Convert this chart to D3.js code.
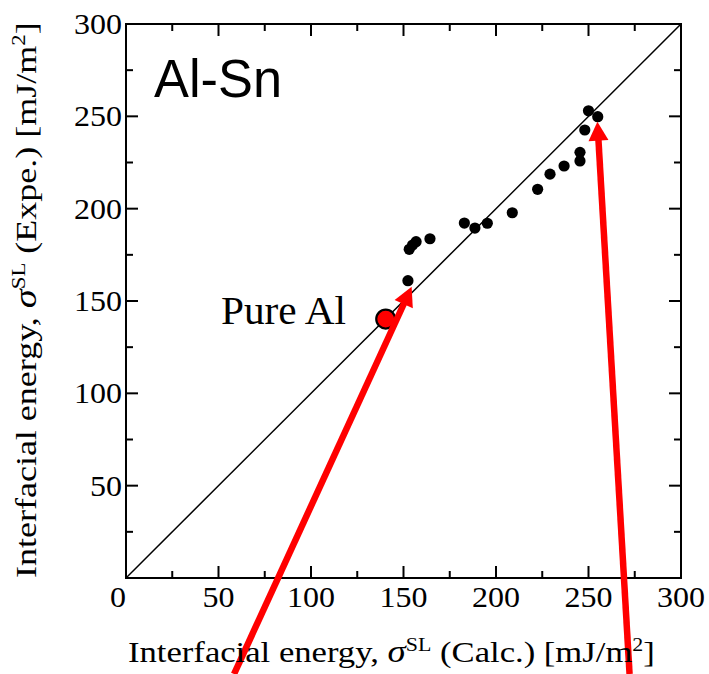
<!DOCTYPE html>
<html>
<head>
<meta charset="utf-8">
<script src="https://cdn.jsdelivr.net/npm/d3@7"></script>
<style>
  body { margin: 0; background: #fff; }
  svg { display: block; }
  .tick-label { font-family: "Liberation Serif", "Times New Roman", serif; font-size: 29px; fill: #000; }
  .axis-title { font-family: "Liberation Serif", "Times New Roman", serif; font-size: 30px; fill: #000; }
</style>
</head>
<body>
<div id="chart"></div>
<script>
// measured interfacial energies [mJ/m2]
const calcEnergy = [250, 255, 248, 245.4, 245.4, 236.8, 229.2, 222.5, 208.8, 195.3, 188.6, 182.9, 164.3, 156.8, 154.9, 153.1, 152.4];
const expEnergy = [253, 249.8, 242.6, 230.5, 225.8, 223.1, 218.7, 210.5, 197.8, 192.1, 189.5, 192.2, 183.7, 182.1, 180.3, 178, 161];
const pureAl = [140.4, 140.2];

const xTickValues = [0, 50, 100, 150, 200, 250, 300];
const yTickValues = [50, 100, 150, 200, 250, 300];
const minorTickValues = [25, 75, 125, 175, 225, 275];

// annotation arrows, in data units (tails run off the bottom of the page)
const arrowTails = [[58.4, -52], [272.2, -52]];
const arrowTips = [[154.4, 157.7], [254.8, 247.1]];

const config = {
  width: 709,
  height: 674,
  margin: { top: 24, right: 28, bottom: 96, left: 126 },
};

const svg = d3.select('#chart').append('svg')
  .attr('width', config.width)
  .attr('height', config.height);

const innerW = config.width - config.margin.left - config.margin.right;
const innerH = config.height - config.margin.top - config.margin.bottom;

const xScale = d3.scaleLinear().domain([0, 300]).range([0, innerW]);
const yScale = d3.scaleLinear().domain([0, 300]).range([innerH, 0]);

const g = svg.append('g')
  .attr('transform', `translate(${config.margin.left},${config.margin.top})`);

// stretch a text element horizontally to a target width
function fitWidth(sel, target) {
  const w = sel.node().getComputedTextLength();
  sel.attr('textLength', target).attr('lengthAdjust', 'spacingAndGlyphs');
  return w;
}

// y = x reference line
g.append('line')
  .attr('x1', xScale(0)).attr('y1', yScale(0))
  .attr('x2', xScale(300)).attr('y2', yScale(300))
  .attr('stroke', '#000')
  .attr('stroke-width', 1.5);

// inward ticks on all four sides
const majorLen = 12;
const minorLen = 7;
const tickG = g.append('g').attr('stroke', '#000').attr('stroke-width', 2);

[[xTickValues, majorLen], [minorTickValues, minorLen]].forEach(([vals, len]) => {
  tickG.selectAll(null).data(vals).enter().append('line')
    .attr('x1', (d) => xScale(d)).attr('x2', (d) => xScale(d))
    .attr('y1', innerH).attr('y2', innerH - len);
  tickG.selectAll(null).data(vals).enter().append('line')
    .attr('x1', (d) => xScale(d)).attr('x2', (d) => xScale(d))
    .attr('y1', 0).attr('y2', len);
  tickG.selectAll(null).data(vals).enter().append('line')
    .attr('y1', (d) => yScale(d)).attr('y2', (d) => yScale(d))
    .attr('x1', 0).attr('x2', len);
  tickG.selectAll(null).data(vals).enter().append('line')
    .attr('y1', (d) => yScale(d)).attr('y2', (d) => yScale(d))
    .attr('x1', innerW).attr('x2', innerW - len);
});

// frame
g.append('rect')
  .attr('width', innerW)
  .attr('height', innerH)
  .attr('fill', 'none')
  .attr('stroke', '#000')
  .attr('stroke-width', 2);

// tick labels
g.selectAll('.x-label')
  .data(xTickValues)
  .enter()
  .append('text')
  .attr('class', 'tick-label x-label')
  .attr('text-anchor', 'middle')
  .attr('x', (d) => xScale(d) + (d === 0 ? -8 : 0))
  .attr('y', innerH + 29)
  .text((d) => d)
  .each(function (d) { fitWidth(d3.select(this), String(d).length * 16); });

g.selectAll('.y-label')
  .data(yTickValues)
  .enter()
  .append('text')
  .attr('class', 'tick-label y-label')
  .attr('text-anchor', 'end')
  .attr('x', -4)
  .attr('y', (d) => yScale(d) + 10)
  .text((d) => d)
  .each(function (d) { fitWidth(d3.select(this), String(d).length * 16); });

// axis titles
function addTitle(parent, kind) {
  const t = parent.append('text').attr('class', 'axis-title');
  t.append('tspan').text('Interfacial energy, ');
  t.append('tspan').attr('font-style', 'italic').attr('font-size', '32px').text('σ');
  t.append('tspan').attr('font-size', '19px').attr('dy', -11).text('SL');
  t.append('tspan').attr('dy', 11).text(` (${kind}) [mJ/m`);
  t.append('tspan').attr('font-size', '19px').attr('dy', -11).text('2');
  t.append('tspan').attr('dy', 11).text(']');
  return t;
}

const xTitle = addTitle(svg, 'Calc.')
  .attr('x', 128)
  .attr('y', 662);
const xW = xTitle.node().getBBox().width;
xTitle.attr('transform', `translate(128,0) scale(${527 / xW},1) translate(-128,0)`);

const yTitle = addTitle(svg.append('g').attr('transform', 'translate(36,578) rotate(-90)'), 'Expe.')
  .attr('x', 0)
  .attr('y', 0);
const yW = yTitle.node().getBBox().width;
yTitle.attr('transform', `scale(${556 / yW},1)`);

// system label
const sysLabel = g.append('text')
  .attr('x', 154 - config.margin.left)
  .attr('y', 97 - config.margin.top)
  .attr('font-family', '"Liberation Sans", Arial, sans-serif')
  .attr('font-size', '53px')
  .text('Al-Sn');
fitWidth(sysLabel, 128);

// data points
g.selectAll('.dot')
  .data(calcEnergy.map((c, i) => [c, expEnergy[i]]))
  .enter()
  .append('circle')
  .attr('class', 'dot')
  .attr('cx', (d) => xScale(d[0]))
  .attr('cy', (d) => yScale(d[1]))
  .attr('r', 5.6)
  .attr('fill', '#000');

// pure Al reference
g.append('circle')
  .attr('cx', xScale(pureAl[0]))
  .attr('cy', yScale(pureAl[1]))
  .attr('r', 9.5)
  .attr('fill', '#ff0000')
  .attr('stroke', '#000')
  .attr('stroke-width', 2.2);

const alLabel = g.append('text')
  .attr('x', 221 - config.margin.left)
  .attr('y', 324 - config.margin.top)
  .attr('font-family', '"Liberation Serif", "Times New Roman", serif')
  .attr('font-size', '40px')
  .text('Pure Al');
fitWidth(alLabel, 125);

// red annotation arrows
const headLen = 19;
const headHalf = 10;
arrowTips.forEach((tipD, i) => {
  const tail = [xScale(arrowTails[i][0]), yScale(arrowTails[i][1])];
  const tip = [xScale(tipD[0]), yScale(tipD[1])];
  const dx = tip[0] - tail[0];
  const dy = tip[1] - tail[1];
  const len = Math.hypot(dx, dy);
  const ux = dx / len;
  const uy = dy / len;
  const base = [tip[0] - ux * headLen, tip[1] - uy * headLen];

  g.append('line')
    .attr('x1', tail[0]).attr('y1', tail[1])
    .attr('x2', base[0] + ux * 2).attr('y2', base[1] + uy * 2)
    .attr('stroke', '#ff0000')
    .attr('stroke-width', 6.5);

  g.append('path')
    .attr('d', `M${tip[0]},${tip[1]}`
      + `L${base[0] - uy * headHalf},${base[1] + ux * headHalf}`
      + `L${base[0] + uy * headHalf},${base[1] - ux * headHalf}Z`)
    .attr('fill', '#ff0000');
});
</script>
</body>
</html>
